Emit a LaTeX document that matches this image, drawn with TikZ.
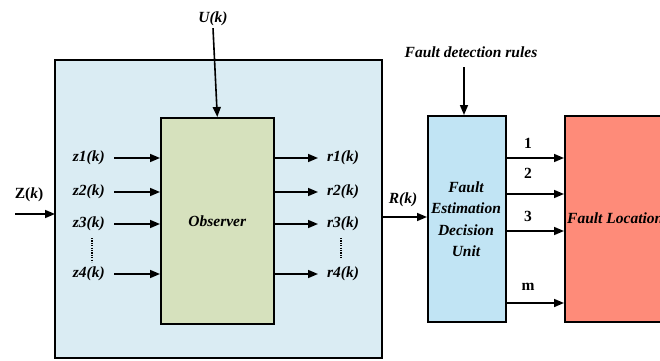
\documentclass[tikz,border=0pt]{standalone}
\usepackage{fontspec}
\setmainfont{Liberation Serif}
\usetikzlibrary{arrows.meta}
\definecolor{outerfill}{HTML}{DAECF3}
\definecolor{obsfill}{HTML}{D6E1BD}
\definecolor{unitfill}{HTML}{C1E4F4}
\definecolor{locfill}{HTML}{FE8B79}
\tikzset{
  x=1pt, y=-1pt,
  box/.style={draw=black, line width=1.6pt, inner sep=0pt},
  lbl/.style={font=\fontsize{15.5}{18}\selectfont\bfseries\itshape, inner sep=1pt},
  num/.style={font=\fontsize{15.5}{18}\selectfont\bfseries, inner sep=1pt},
  sig/.style={line width=1.6pt, -{Triangle[length=10pt,width=8pt]}},
  dots/.style={line width=2pt, dash pattern=on 1.2pt off 1.2pt},
}
\begin{document}
\begin{tikzpicture}
\useasboundingbox (0,0) rectangle (660,360);
% blocks
\filldraw[box, fill=outerfill] (55,60) rectangle (382,358);
\node[box, fill=obsfill, minimum width=113pt, minimum height=206pt, anchor=north west] (obs) at (160,117) {};
\node[lbl] at (obs.center) {Observer};
\node[box, fill=unitfill, minimum width=78pt, minimum height=206pt, anchor=north west] (unit) at (427,115) {};
\node[lbl, align=center, font=\fontsize{15.5}{21.4}\selectfont\bfseries\itshape] (unittext) at (466,219) {Fault\\Estimation\\Decision\\Unit};
\node[box, fill=locfill, minimum width=120pt, minimum height=206pt, anchor=north west] (loc) at (564,115) {};
\node[lbl, anchor=west] (loctext) at (566,218) {Fault Location};
% connection points on the outer block
\coordinate (bigW) at (55,214);
\coordinate (bigE) at (382,217);
% external inputs
\node[lbl] (U) at (213,19) {U(k)};
\draw[sig] (U.south) ++(0,1) -- (obs.north);
\node[num] (Z) at (29,195) {Z(\textit{k})};
\coordinate (zin) at (15,214);
\draw[sig] (zin) -- (bigW);
% observer inputs and residual outputs
\foreach \i/\y in {1/158,2/192,3/224,4/274}{
  \node[lbl, anchor=east] (z\i) at (106,\y) {z\i(k)};
  \draw[sig] (z\i.east) ++(8,0) -- (z\i.east -| obs.west);
  \node[lbl, anchor=west] (r\i) at (326,\y) {r\i(k)};
  \draw[sig] (r\i.west -| obs.east) -- ([xshift=-8pt]r\i.west);
}
\draw[dots] (92,238) -- (92,262);
\draw[dots] (341,238) -- (341,258);
% residual vector
\node[lbl] (R) at (403,200) {R(k)};
\draw[sig] (bigE) -- (bigE -| unit.west);
% rules
\node[lbl] (rules) at (471,52) {Fault detection rules};
\draw[sig] (464,67) -- (unit.north -| 464,0);
% unit outputs
\foreach \n/\y/\ly in {1/158/143,2/194/173,3/231/216,m/303/287}{
  \coordinate (o\n) at (505,\y);
  \node[num] (n\n) at (528,\ly) {\n};
  \draw[sig] (o\n) -- (o\n -| loc.west);
}
\end{tikzpicture}
\end{document}
